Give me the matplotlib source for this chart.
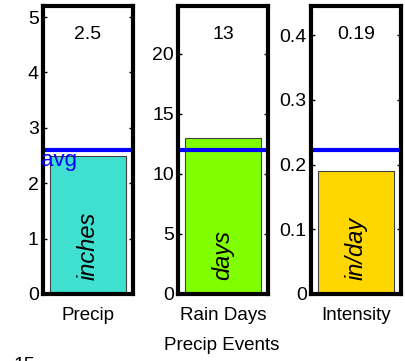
import matplotlib
matplotlib.use('Agg')
import matplotlib.pyplot as plt

plt.rcParams['font.family'] = ['Liberation Sans', 'DejaVu Sans']

# Datos
categorias = ['Precip', 'Rain Days', 'Intensity']
valores = [2.5, 13, 0.19]
promedios = [2.6, 12.0, 0.222]
etiquetas_valor = ['2.5', '13', '0.19']
unidades = ['inches', 'days', 'in/day']
limites_y = [5.2, 24, 0.445]
ticks_y = [[0, 1, 2, 3, 4, 5],
           [0, 5, 10, 15, 20],
           [0, 0.1, 0.2, 0.3, 0.4]]
tick_labels_y = [['0', '1', '2', '3', '4', '5'],
                 ['0', '5', '10', '15', '20'],
                 ['0', '0.1', '0.2', '0.3', '0.4']]

colores = ['#40E0D0', '#80FF00', '#FFD700']
lefts = [43 / 405, 178 / 405, 311 / 405]
ancho = 90 / 405

fig = plt.figure(figsize=(4.05, 3.61), dpi=100)

for i, cat in enumerate(categorias):
    ax = fig.add_axes([lefts[i], 1 - 294 / 361, ancho, 288 / 361])
    ax.bar([1], [valores[i]], width=0.85, color=colores[i],
           edgecolor='#404040', linewidth=0.8, zorder=1)
    ax.axhline(promedios[i], color='#0000FF', linewidth=3, zorder=2)
    ax.set_xlim(0.5, 1.5)
    ax.set_ylim(0, limites_y[i])
    ax.set_xticks([1])
    ax.set_xticklabels([cat], fontsize=13.5)
    ax.set_yticks(ticks_y[i])
    ax.set_yticklabels(tick_labels_y[i], fontsize=14)
    ax.tick_params(axis='x', length=0, pad=9)
    ax.tick_params(axis='y', direction='in', length=3, width=1,
                   left=True, right=True, pad=3)
    for sp in ax.spines.values():
        sp.set_linewidth(3)
        sp.set_color('black')

    # Valor arriba
    ax.text(0.5, 0.9, etiquetas_valor[i], transform=ax.transAxes,
            ha='center', va='center', fontsize=14)
    # Unidad rotada dentro de la barra
    ax.text(0.5, 0.05, unidades[i], transform=ax.transAxes, rotation=90,
            ha='center', va='bottom', fontsize=17, style='italic')
    if i == 0:
        ax.text(0.48, promedios[i], 'avg', color='#0000FF', fontsize=16,
                ha='left', va='top', zorder=3)

fig.text(222 / 405, 1 - 346 / 361, 'Precip Events', ha='center',
         va='center', fontsize=13.5)
# fragmento cortado abajo a la izquierda (como en la referencia)
fig.text(24 / 405, 1 - 357 / 361, '15', ha='center', va='top',
         fontsize=14)

fig.savefig('out.png', dpi=100)
